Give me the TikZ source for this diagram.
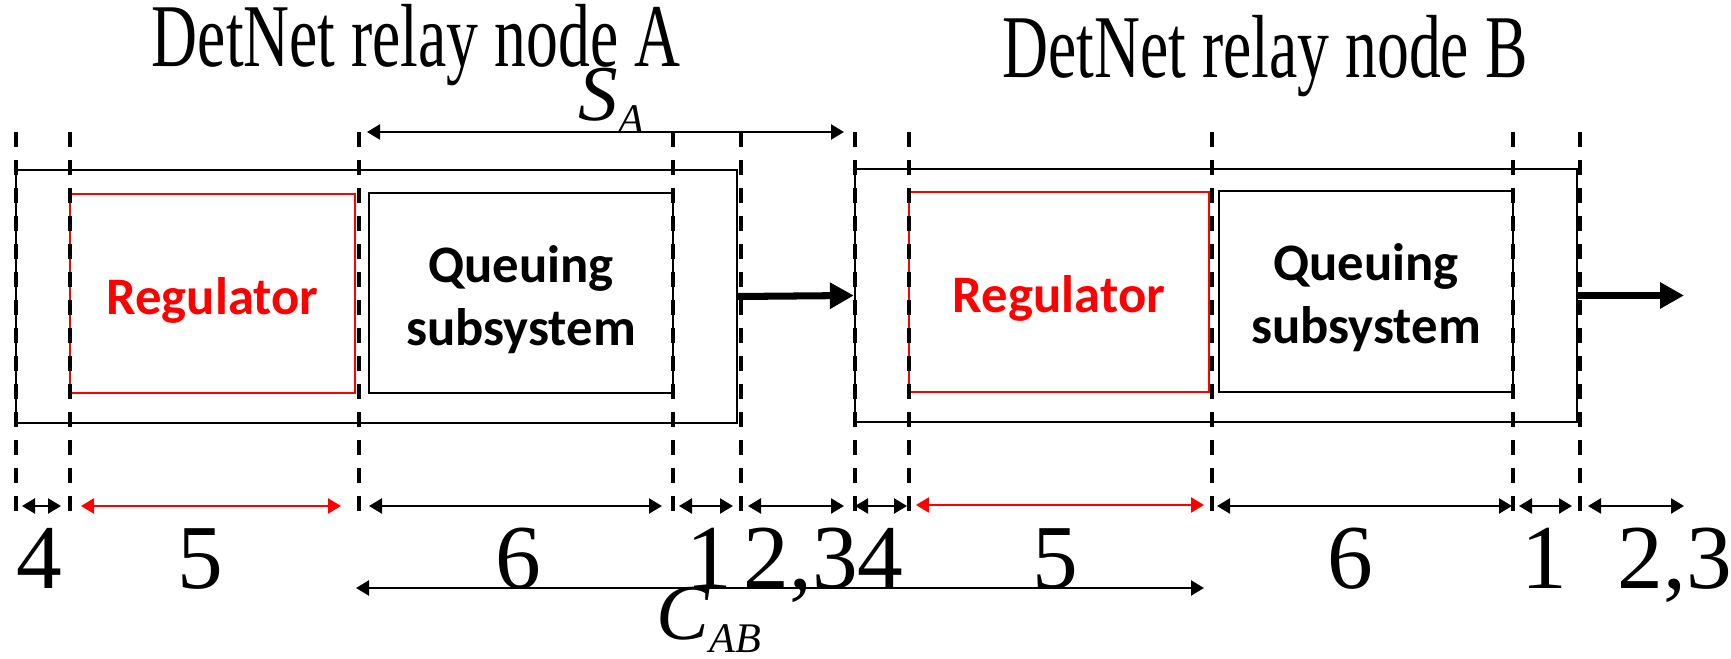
\documentclass[tikz,border=0pt]{standalone}
\usepackage{fontspec}
\setmainfont{Liberation Serif}
\newfontfamily\boxfont{Carlito}
\usepackage{graphicx}
\usepackage{tikz}
\usetikzlibrary{arrows.meta}

\newcommand{\boxlabel}[1]{\raisebox{-0.8mm}[\height][\depth]{\begin{tabular}{@{}c@{}}#1\end{tabular}}}

\begin{document}
\begin{tikzpicture}[x=1cm,y=-1cm,
  guide/.style={dash pattern=on 1.5mm off 1.3mm, line width=1.05pt},
  dim/.style={line width=0.65pt, {Triangle[length=1.3mm,width=1.5mm]}-{Triangle[length=1.3mm,width=1.5mm]}},
  flow/.style={line width=2pt, -{Triangle[length=2.4mm,width=2.5mm]}},
  unit/.style={draw, line width=0.65pt, inner sep=0pt},
  blocktext/.style={font=\boxfont\bfseries\fontsize{15}{17.9}\selectfont},
  num/.style={anchor=base, font=\fontsize{26}{26}\selectfont},
  title/.style={anchor=base, font=\fontsize{25.5}{25.5}\selectfont},
  sym/.style={anchor=base west, inner sep=0pt, font=\fontsize{22.5}{22.5}\selectfont\itshape}]
\useasboundingbox (0,0) rectangle (17.31,6.59);

% relay nodes
\node[unit, minimum width=7.21cm, minimum height=2.53cm] (nodeA) at (3.765,2.965) {};
\node[unit, minimum width=7.22cm, minimum height=2.53cm] (nodeB) at (12.16,2.955) {};
\node[unit, blocktext, draw=red, line width=0.55pt, text=red, minimum width=2.85cm, minimum height=1.99cm] (regA) at (2.125,2.935) {\boxlabel{Regulator}};
\node[unit, blocktext, minimum width=3.04cm, minimum height=2.0cm] (queueA) at (5.21,2.93) {\boxlabel{Queuing\\subsystem}};
\node[unit, blocktext, draw=red, line width=0.55pt, text=red, minimum width=3.0cm, minimum height=2.0cm] (regB) at (10.59,2.92) {\boxlabel{Regulator}};
\node[unit, blocktext, minimum width=2.94cm, minimum height=2.01cm] (queueB) at (13.66,2.915) {\boxlabel{Queuing\\subsystem}};

\node[title] (titleA) at (4.16,0.67) {\scalebox{0.71}[1]{DetNet relay node A}};
\node[title] (titleB) at (12.65,0.78) {\scalebox{0.71}[1]{DetNet relay node B}};

\coordinate (exitB) at (16.84,2.955);
\draw[flow] (nodeA.east) -- (nodeB.west);
\draw[flow] (nodeB.east) -- (exitB);

% delay boundaries
\foreach \x in {0.16,0.70,3.59,6.73,7.41,8.55,9.09,12.12,15.13,15.80}
  \draw[guide] (\x,1.32) -- (\x,5.12);

\foreach \a/\b in {0.22/0.61,3.69/6.62,6.79/7.33,7.48/8.44,8.55/9.07,12.17/15.12,15.19/15.72,15.88/16.84}
  \draw[dim] (\a,5.06) -- (\b,5.06);
\draw[dim, red] (0.81,5.06) -- (3.41,5.06);
\draw[dim, red] (9.16,5.05) -- (12.04,5.05);

\foreach \x/\t [count=\i] in {0.39/4,2.00/5,5.18/6,7.09/1,8.01/{2,3},8.80/4,10.55/5,13.50/6,15.44/1,16.75/{2,3}}
  \node[num] (len\i) at (\x,5.89) {\t};

\draw[dim] (3.67,1.32) -- (8.44,1.32);
\node[sym] (lblS) at (5.78,1.21) {S\raisebox{-1.3mm}{\fontsize{12}{12}\selectfont A}};
\draw[dim] (3.56,5.88) -- (12.04,5.88);
\node[sym] (lblC) at (6.56,6.40) {C\raisebox{-1.3mm}{\fontsize{12}{12}\selectfont AB}};
\end{tikzpicture}
\end{document}
